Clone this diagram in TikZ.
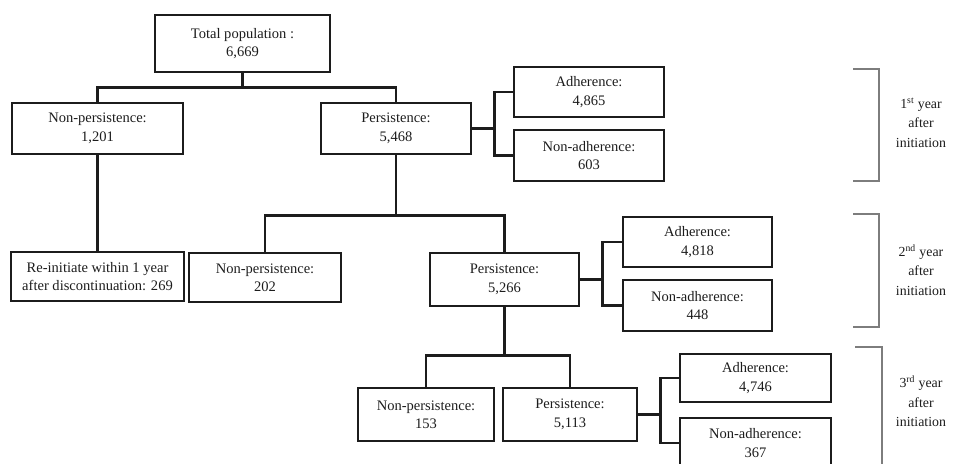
\documentclass[tikz,border=0pt]{standalone}
\usepackage{fontspec}
\setmainfont{Liberation Serif}
\definecolor{ink}{RGB}{28,28,28}
\definecolor{brk}{RGB}{125,125,125}

\begin{document}
\begin{tikzpicture}[x=0.75pt,y=-0.75pt,
  box/.style={draw=ink,line width=2.1pt,align=center,inner sep=0pt,text=ink,
    font=\fontsize{10.9}{13.8}\selectfont},
  sz/.style 2 args={minimum width=#1*0.75pt,minimum height=#2*0.75pt},
  link/.style={draw=ink,line width=2.1pt},
  yr/.style={align=center,text=ink,font=\fontsize{10.4}{14.6}\selectfont}]
  \useasboundingbox (0,0) rectangle (954,464);
  % first year
  \node[box,sz={175}{57}] (total) at (242.5,43.5) {Total population :\\6,669};
  \node[box,sz={171}{51}] (np1) at (97.5,128.5) {Non-persistence:\\1,201};
  \node[box,sz={150}{51}] (p1) at (396,128.5) {Persistence:\\5,468};
  \node[box,sz={150}{50}] (a1) at (589,92) {Adherence:\\4,865};
  \node[box,sz={150}{51}] (na1) at (589,155.5) {Non-adherence:\\603};
  % second year
  \node[box,sz={173}{49}] (reinit) at (97.5,276.5) {Re-initiate within 1 year\\after discontinuation: 269};
  \node[box,sz={152}{49}] (np2) at (265,277.5) {Non-persistence:\\202};
  \node[box,sz={149}{53}] (p2) at (504.5,279.5) {Persistence:\\5,266};
  \node[box,sz={149}{50}] (a2) at (697.5,242) {Adherence:\\4,818};
  \node[box,sz={149}{51}] (na2) at (697.5,305.5) {Non-adherence:\\448};
  % third year
  \node[box,sz={136}{53}] (np3) at (426,414.5) {Non-persistence:\\153};
  \node[box,sz={134}{53}] (p3) at (570,414.5) {Persistence:\\5,113};
  \node[box,sz={151}{48}] (a3) at (755.5,378) {Adherence:\\4,746};
  \node[box,sz={151}{50}] (na3) at (755.5,443) {Non-adherence:\\367};

  % tree lines
  \draw[link] (total.south) -- ++(0,14) coordinate (j1);
  \draw[link] (np1.north) |- (j1) -| (p1.north);
  \draw[link] (np1.south) -- (reinit.north);
  \draw[link] (p1.south) -- ++(0,60) coordinate (j2);
  \draw[link] (np2.north) |- (j2) -| (p2.north);
  \draw[link] (p2.south) -- ++(0,48) coordinate (j3);
  \draw[link] (np3.north) |- (j3) -| (p3.north);
  \foreach \p/\a/\n in {p1/a1/na1, p2/a2/na2, p3/a3/na3} {
    \draw[link] (\p.east) -- ++(22,0) coordinate (k);
    \draw[link] (\a.west) -| (k) |- (\n.west);
  }

  % year brackets
  \draw[brk,line width=1pt] (853,69) -- (879,69) -- (879,181) -- (853,181);
  \draw[brk,line width=1pt] (853,214) -- (879,214) -- (879,327) -- (853,327);
  \draw[brk,line width=1pt] (855,347) -- (882,347) -- (882,470);
  \node[yr] (yr1) at (921,122.5) {1\textsuperscript{st} year\\after\\initiation};
  \node[yr] (yr2) at (921,270) {2\textsuperscript{nd} year\\after\\initiation};
  \node[yr] (yr3) at (921,401.5) {3\textsuperscript{rd} year\\after\\initiation};
\end{tikzpicture}
\end{document}
